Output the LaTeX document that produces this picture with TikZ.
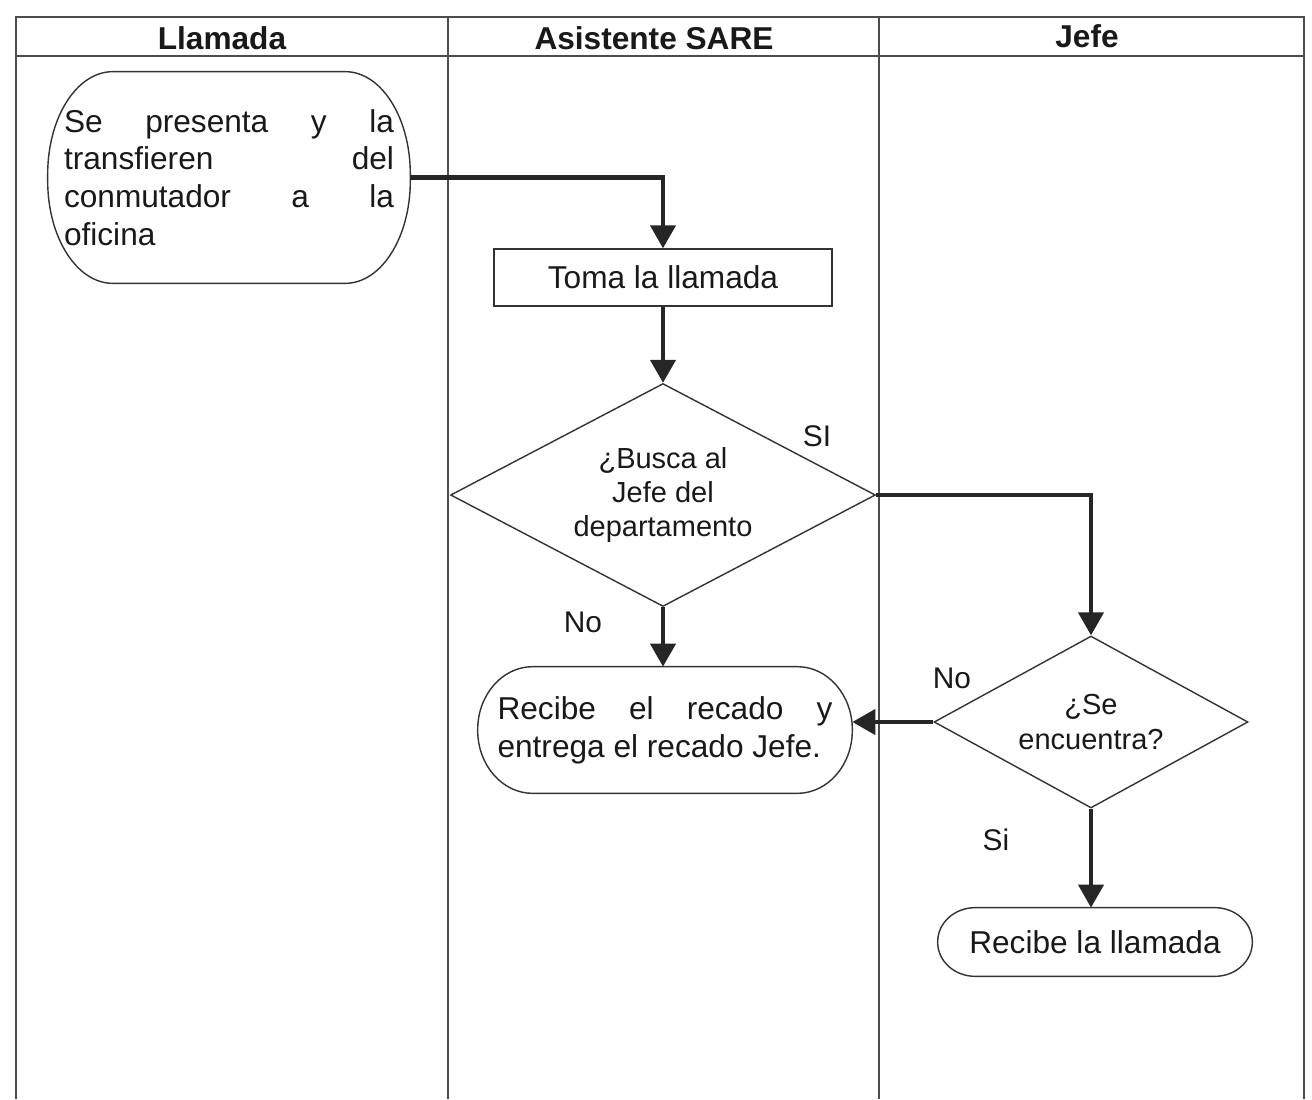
\documentclass[tikz,border=0pt]{standalone}
\usepackage{fontspec}
\setmainfont{Liberation Sans}
\usetikzlibrary{shapes.geometric,arrows.meta}

% box with elliptical corners drawn around a (borderless) node
\newcommand\flowoval[3]{%
  \draw[shapeline]
    ([xshift=#2]#1.north west) -- ([xshift=-#2]#1.north east)
    arc[start angle=90,end angle=0,x radius=#2,y radius=#3]
    -- ([yshift=#3]#1.south east)
    arc[start angle=0,end angle=-90,x radius=#2,y radius=#3]
    -- ([xshift=#2]#1.south west)
    arc[start angle=270,end angle=180,x radius=#2,y radius=#3]
    -- ([yshift=-#3]#1.north west)
    arc[start angle=180,end angle=90,x radius=#2,y radius=#3]
    -- cycle;}

\begin{document}
\begin{tikzpicture}[x=0.02cm,y=-0.02cm,
  lane/.style={draw=black!70,line width=0.7pt},
  shapeline/.style={draw=black!80,line width=0.8pt},
  head/.style={font=\fontsize{18}{21}\selectfont\bfseries,text=black!90},
  txt/.style={inner sep=0pt,text=black!90,font=\fontsize{18}{21.5}\selectfont},
  dtxt/.style={inner sep=0pt,text=black!90,font=\fontsize{16.5}{19.4}\selectfont},
  decision/.style={dtxt,shape=diamond,shapeline,aspect=2,align=center},
  lbl/.style={text=black!90,font=\fontsize{17}{20}\selectfont},
  flow/.style={draw=black!85,line width=2.4pt,
    -{Triangle[length=0.46cm,width=0.5cm]}},
]
\useasboundingbox (0,0) rectangle (1312,1099);

% swimlane frame
\draw[lane] (16,1099) -- (16,17) -- (1304,17) -- (1304,1099);
\draw[lane] (16,56) -- (1304,56);
\draw[lane] (448,17) -- (448,1099);
\draw[lane] (879,17) -- (879,1099);

\node[head] (hLlamada) at (222,38) {Llamada};
\node[head] (hAsist) at (654,38) {Asistente SARE};
\node[head] (hJefe) at (1087,36) {Jefe};

% start
\node[txt,text width=6.6cm,align=justify,minimum width=7.24cm,
      minimum height=4.22cm] (inicio) at (229,177.5)
  {\tolerance=10000\hyphenpenalty=10000
   Se presenta y la\linebreak transfieren del\linebreak
   conmutador a la\linebreak oficina};
\flowoval{inicio}{1.3cm}{2.05cm}

% process
\node[txt,shapeline,minimum width=6.76cm,minimum height=1.14cm]
  (toma) at (663,277.5) {Toma la llamada};

% first decision
\node[decision,minimum width=8.5cm,minimum height=4.46cm]
  (busca) at (663,495) {¿Busca al\\Jefe del\\departamento};

% message taken
\node[txt,text width=6.7cm,align=justify,minimum width=7.48cm,
      minimum height=2.52cm] (recado) at (665,730)
  {\tolerance=10000\hyphenpenalty=10000
   Recibe el recado y\linebreak entrega el recado Jefe.};
\flowoval{recado}{1.1cm}{1.26cm}

% second decision
\node[decision,minimum width=6.28cm,minimum height=3.44cm]
  (encuentra) at (1091,722) {¿Se\\encuentra?};

% end
\node[txt,minimum width=6.28cm,minimum height=1.36cm]
  (llamada) at (1095,942) {Recibe la llamada};
\flowoval{llamada}{0.75cm}{0.68cm}

% connectors
\draw[flow] (inicio.east) -| (toma.north);
\draw[flow] (toma.south) -- (busca.north);
\draw[flow] (busca.east) -| (encuentra.north);
\draw[flow] (busca.south) -- (busca.south |- recado.north);
\draw[flow] (encuentra.west) -- (encuentra.west -| recado.east);
\draw[flow] (encuentra.south) -- (encuentra.south |- llamada.north);

% branch labels
\node[lbl] (siA) at (817,436) {SI};
\node[lbl] (noA) at (583,622) {No};
\node[lbl] (noB) at (952,678) {No};
\node[lbl] (siB) at (996,840) {Si};
\end{tikzpicture}
\end{document}
